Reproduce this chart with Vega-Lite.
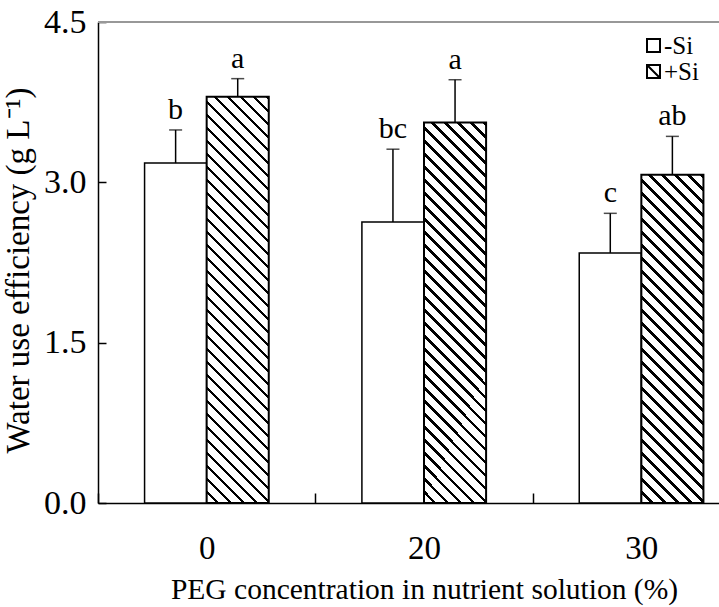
{
  "$schema": "https://vega.github.io/schema/vega-lite/v6.json",
  "width": 621,
  "height": 481,
  "autosize": "none",
  "padding": {"left": 98, "top": 22, "right": 0, "bottom": 104},
  "config": {
    "view": {"stroke": null},
    "font": "Liberation Serif",
    "style": {"guide-label": {"font": "Liberation Serif"}, "guide-title": {"font": "Liberation Serif"}},
    "axis": {"grid": false, "domainColor": "#000", "domainWidth": 1.5, "tickColor": "#000", "tickWidth": 1.5, "labelColor": "#000", "titleColor": "#000", "labelFont": "Liberation Serif", "titleFont": "Liberation Serif", "titleFontWeight": "normal"},
    "legend": {"labelFont": "Liberation Serif"}
  },
  "data": {"values": [
    {"peg": "0", "si": "-Si", "wue": 3.18, "hi": 3.49, "letter": "b"},
    {"peg": "0", "si": "+Si", "wue": 3.80, "hi": 3.97, "letter": "a"},
    {"peg": "20", "si": "-Si", "wue": 2.63, "hi": 3.31, "letter": "bc"},
    {"peg": "20", "si": "+Si", "wue": 3.56, "hi": 3.96, "letter": "a"},
    {"peg": "30", "si": "-Si", "wue": 2.34, "hi": 2.71, "letter": "c"},
    {"peg": "30", "si": "+Si", "wue": 3.07, "hi": 3.43, "letter": "ab"}
  ]},
  "encoding": {
    "x": {"field": "peg", "type": "nominal", "sort": ["0", "20", "30"],
      "scale": {"range": [0, 652], "paddingInner": 0, "paddingOuter": 0},
      "axis": {"title": "PEG concentration in nutrient solution (%)", "labelAngle": 0, "tickBand": "extent", "tickSize": -10, "labelPadding": 39, "titlePadding": 10, "labelFont": "Liberation Serif", "titleFont": "Liberation Serif", "labelFontSize": 33, "titleFontSize": 29.5}},
    "xOffset": {"field": "si", "type": "nominal", "sort": ["-Si", "+Si"], "scale": {"paddingInner": 0, "paddingOuter": 0.75}},
    "y": {"field": "wue", "type": "quantitative",
      "scale": {"domain": [0, 4.5], "nice": false, "zero": true},
      "axis": {"title": "Water use efficiency (g L\u207b\u00b9)", "values": [0, 1.5, 3, 4.5], "format": ".1f", "tickSize": -8, "labelPadding": 20, "titlePadding": 8, "titleY": 248, "labelFont": "Liberation Serif", "titleFont": "Liberation Serif", "labelFontSize": 34, "titleFontSize": 33}}
  },
  "layer": [
    {"mark": {"type": "rule", "color": "#999", "strokeWidth": 1.5}, "encoding": {"y": {"datum": 4.5}, "x": null, "xOffset": null}},
    {"transform": [{"filter": "datum.si === '-Si'"}], "mark": {"type": "bar", "fill": "#fff", "stroke": "#000", "strokeWidth": 1.5}},
    {"transform": [{"filter": "datum.si === '+Si' && datum.peg === '0'"}], "mark": {"type": "bar", "stroke": "#000", "strokeWidth": 2, "fill": {"gradient": "linear", "x1": 0, "y1": 1, "x2": 0.19124, "y2": -0.25092, "stops": [
{"offset":0,"color":"#fff"},{"offset":0.0185,"color":"#fff"},{"offset":0.0185,"color":"#000"},{"offset":0.025,"color":"#000"},
{"offset":0.025,"color":"#fff"},{"offset":0.0435,"color":"#fff"},{"offset":0.0435,"color":"#000"},{"offset":0.05,"color":"#000"},
{"offset":0.05,"color":"#fff"},{"offset":0.0685,"color":"#fff"},{"offset":0.0685,"color":"#000"},{"offset":0.075,"color":"#000"},
{"offset":0.075,"color":"#fff"},{"offset":0.0935,"color":"#fff"},{"offset":0.0935,"color":"#000"},{"offset":0.1,"color":"#000"},
{"offset":0.1,"color":"#fff"},{"offset":0.1185,"color":"#fff"},{"offset":0.1185,"color":"#000"},{"offset":0.125,"color":"#000"},
{"offset":0.125,"color":"#fff"},{"offset":0.1435,"color":"#fff"},{"offset":0.1435,"color":"#000"},{"offset":0.15,"color":"#000"},
{"offset":0.15,"color":"#fff"},{"offset":0.1685,"color":"#fff"},{"offset":0.1685,"color":"#000"},{"offset":0.175,"color":"#000"},
{"offset":0.175,"color":"#fff"},{"offset":0.1935,"color":"#fff"},{"offset":0.1935,"color":"#000"},{"offset":0.2,"color":"#000"},
{"offset":0.2,"color":"#fff"},{"offset":0.2185,"color":"#fff"},{"offset":0.2185,"color":"#000"},{"offset":0.225,"color":"#000"},
{"offset":0.225,"color":"#fff"},{"offset":0.2435,"color":"#fff"},{"offset":0.2435,"color":"#000"},{"offset":0.25,"color":"#000"},
{"offset":0.25,"color":"#fff"},{"offset":0.2685,"color":"#fff"},{"offset":0.2685,"color":"#000"},{"offset":0.275,"color":"#000"},
{"offset":0.275,"color":"#fff"},{"offset":0.2935,"color":"#fff"},{"offset":0.2935,"color":"#000"},{"offset":0.3,"color":"#000"},
{"offset":0.3,"color":"#fff"},{"offset":0.3185,"color":"#fff"},{"offset":0.3185,"color":"#000"},{"offset":0.325,"color":"#000"},
{"offset":0.325,"color":"#fff"},{"offset":0.3435,"color":"#fff"},{"offset":0.3435,"color":"#000"},{"offset":0.35,"color":"#000"},
{"offset":0.35,"color":"#fff"},{"offset":0.3685,"color":"#fff"},{"offset":0.3685,"color":"#000"},{"offset":0.375,"color":"#000"},
{"offset":0.375,"color":"#fff"},{"offset":0.3935,"color":"#fff"},{"offset":0.3935,"color":"#000"},{"offset":0.4,"color":"#000"},
{"offset":0.4,"color":"#fff"},{"offset":0.4185,"color":"#fff"},{"offset":0.4185,"color":"#000"},{"offset":0.425,"color":"#000"},
{"offset":0.425,"color":"#fff"},{"offset":0.4435,"color":"#fff"},{"offset":0.4435,"color":"#000"},{"offset":0.45,"color":"#000"},
{"offset":0.45,"color":"#fff"},{"offset":0.4685,"color":"#fff"},{"offset":0.4685,"color":"#000"},{"offset":0.475,"color":"#000"},
{"offset":0.475,"color":"#fff"},{"offset":0.4935,"color":"#fff"},{"offset":0.4935,"color":"#000"},{"offset":0.5,"color":"#000"},
{"offset":0.5,"color":"#fff"},{"offset":0.5185,"color":"#fff"},{"offset":0.5185,"color":"#000"},{"offset":0.525,"color":"#000"},
{"offset":0.525,"color":"#fff"},{"offset":0.5435,"color":"#fff"},{"offset":0.5435,"color":"#000"},{"offset":0.55,"color":"#000"},
{"offset":0.55,"color":"#fff"},{"offset":0.5685,"color":"#fff"},{"offset":0.5685,"color":"#000"},{"offset":0.575,"color":"#000"},
{"offset":0.575,"color":"#fff"},{"offset":0.5935,"color":"#fff"},{"offset":0.5935,"color":"#000"},{"offset":0.6,"color":"#000"},
{"offset":0.6,"color":"#fff"},{"offset":0.6185,"color":"#fff"},{"offset":0.6185,"color":"#000"},{"offset":0.625,"color":"#000"},
{"offset":0.625,"color":"#fff"},{"offset":0.6435,"color":"#fff"},{"offset":0.6435,"color":"#000"},{"offset":0.65,"color":"#000"},
{"offset":0.65,"color":"#fff"},{"offset":0.6685,"color":"#fff"},{"offset":0.6685,"color":"#000"},{"offset":0.675,"color":"#000"},
{"offset":0.675,"color":"#fff"},{"offset":0.6935,"color":"#fff"},{"offset":0.6935,"color":"#000"},{"offset":0.7,"color":"#000"},
{"offset":0.7,"color":"#fff"},{"offset":0.7185,"color":"#fff"},{"offset":0.7185,"color":"#000"},{"offset":0.725,"color":"#000"},
{"offset":0.725,"color":"#fff"},{"offset":0.7435,"color":"#fff"},{"offset":0.7435,"color":"#000"},{"offset":0.75,"color":"#000"},
{"offset":0.75,"color":"#fff"},{"offset":0.7685,"color":"#fff"},{"offset":0.7685,"color":"#000"},{"offset":0.775,"color":"#000"},
{"offset":0.775,"color":"#fff"},{"offset":0.7935,"color":"#fff"},{"offset":0.7935,"color":"#000"},{"offset":0.8,"color":"#000"},
{"offset":0.8,"color":"#fff"},{"offset":0.8185,"color":"#fff"},{"offset":0.8185,"color":"#000"},{"offset":0.825,"color":"#000"},
{"offset":0.825,"color":"#fff"},{"offset":0.8435,"color":"#fff"},{"offset":0.8435,"color":"#000"},{"offset":0.85,"color":"#000"},
{"offset":0.85,"color":"#fff"},{"offset":0.8685,"color":"#fff"},{"offset":0.8685,"color":"#000"},{"offset":0.875,"color":"#000"},
{"offset":0.875,"color":"#fff"},{"offset":0.8935,"color":"#fff"},{"offset":0.8935,"color":"#000"},{"offset":0.9,"color":"#000"},
{"offset":0.9,"color":"#fff"},{"offset":0.9185,"color":"#fff"},{"offset":0.9185,"color":"#000"},{"offset":0.925,"color":"#000"}
]}}},
    {"transform": [{"filter": "datum.si === '+Si' && datum.peg === '20'"}], "mark": {"type": "bar", "stroke": "#000", "strokeWidth": 2, "fill": {"gradient": "linear", "x1": 0, "y1": 1, "x2": 0.21725, "y2": -0.33114, "stops": [
{"offset":0,"color":"#fff"},{"offset":0.0185,"color":"#fff"},{"offset":0.0185,"color":"#000"},{"offset":0.025,"color":"#000"},
{"offset":0.025,"color":"#fff"},{"offset":0.0435,"color":"#fff"},{"offset":0.0435,"color":"#000"},{"offset":0.05,"color":"#000"},
{"offset":0.05,"color":"#fff"},{"offset":0.0685,"color":"#fff"},{"offset":0.0685,"color":"#000"},{"offset":0.075,"color":"#000"},
{"offset":0.075,"color":"#fff"},{"offset":0.0935,"color":"#fff"},{"offset":0.0935,"color":"#000"},{"offset":0.1,"color":"#000"},
{"offset":0.1,"color":"#fff"},{"offset":0.1185,"color":"#fff"},{"offset":0.1185,"color":"#000"},{"offset":0.125,"color":"#000"},
{"offset":0.125,"color":"#fff"},{"offset":0.1435,"color":"#fff"},{"offset":0.1435,"color":"#000"},{"offset":0.15,"color":"#000"},
{"offset":0.15,"color":"#fff"},{"offset":0.1685,"color":"#fff"},{"offset":0.1685,"color":"#000"},{"offset":0.175,"color":"#000"},
{"offset":0.175,"color":"#fff"},{"offset":0.1935,"color":"#fff"},{"offset":0.1935,"color":"#000"},{"offset":0.2,"color":"#000"},
{"offset":0.2,"color":"#fff"},{"offset":0.2185,"color":"#fff"},{"offset":0.2185,"color":"#000"},{"offset":0.225,"color":"#000"},
{"offset":0.225,"color":"#fff"},{"offset":0.2435,"color":"#fff"},{"offset":0.2435,"color":"#000"},{"offset":0.25,"color":"#000"},
{"offset":0.25,"color":"#fff"},{"offset":0.2685,"color":"#fff"},{"offset":0.2685,"color":"#000"},{"offset":0.275,"color":"#000"},
{"offset":0.275,"color":"#fff"},{"offset":0.2935,"color":"#fff"},{"offset":0.2935,"color":"#000"},{"offset":0.3,"color":"#000"},
{"offset":0.3,"color":"#fff"},{"offset":0.3185,"color":"#fff"},{"offset":0.3185,"color":"#000"},{"offset":0.325,"color":"#000"},
{"offset":0.325,"color":"#fff"},{"offset":0.3435,"color":"#fff"},{"offset":0.3435,"color":"#000"},{"offset":0.35,"color":"#000"},
{"offset":0.35,"color":"#fff"},{"offset":0.3685,"color":"#fff"},{"offset":0.3685,"color":"#000"},{"offset":0.375,"color":"#000"},
{"offset":0.375,"color":"#fff"},{"offset":0.3935,"color":"#fff"},{"offset":0.3935,"color":"#000"},{"offset":0.4,"color":"#000"},
{"offset":0.4,"color":"#fff"},{"offset":0.4185,"color":"#fff"},{"offset":0.4185,"color":"#000"},{"offset":0.425,"color":"#000"},
{"offset":0.425,"color":"#fff"},{"offset":0.4435,"color":"#fff"},{"offset":0.4435,"color":"#000"},{"offset":0.45,"color":"#000"},
{"offset":0.45,"color":"#fff"},{"offset":0.4685,"color":"#fff"},{"offset":0.4685,"color":"#000"},{"offset":0.475,"color":"#000"},
{"offset":0.475,"color":"#fff"},{"offset":0.4935,"color":"#fff"},{"offset":0.4935,"color":"#000"},{"offset":0.5,"color":"#000"},
{"offset":0.5,"color":"#fff"},{"offset":0.5185,"color":"#fff"},{"offset":0.5185,"color":"#000"},{"offset":0.525,"color":"#000"},
{"offset":0.525,"color":"#fff"},{"offset":0.5435,"color":"#fff"},{"offset":0.5435,"color":"#000"},{"offset":0.55,"color":"#000"},
{"offset":0.55,"color":"#fff"},{"offset":0.5685,"color":"#fff"},{"offset":0.5685,"color":"#000"},{"offset":0.575,"color":"#000"},
{"offset":0.575,"color":"#fff"},{"offset":0.5935,"color":"#fff"},{"offset":0.5935,"color":"#000"},{"offset":0.6,"color":"#000"},
{"offset":0.6,"color":"#fff"},{"offset":0.6185,"color":"#fff"},{"offset":0.6185,"color":"#000"},{"offset":0.625,"color":"#000"},
{"offset":0.625,"color":"#fff"},{"offset":0.6435,"color":"#fff"},{"offset":0.6435,"color":"#000"},{"offset":0.65,"color":"#000"},
{"offset":0.65,"color":"#fff"},{"offset":0.6685,"color":"#fff"},{"offset":0.6685,"color":"#000"},{"offset":0.675,"color":"#000"},
{"offset":0.675,"color":"#fff"},{"offset":0.6935,"color":"#fff"},{"offset":0.6935,"color":"#000"},{"offset":0.7,"color":"#000"},
{"offset":0.7,"color":"#fff"},{"offset":0.7185,"color":"#fff"},{"offset":0.7185,"color":"#000"},{"offset":0.725,"color":"#000"},
{"offset":0.725,"color":"#fff"},{"offset":0.7435,"color":"#fff"},{"offset":0.7435,"color":"#000"},{"offset":0.75,"color":"#000"},
{"offset":0.75,"color":"#fff"},{"offset":0.7685,"color":"#fff"},{"offset":0.7685,"color":"#000"},{"offset":0.775,"color":"#000"},
{"offset":0.775,"color":"#fff"},{"offset":0.7935,"color":"#fff"},{"offset":0.7935,"color":"#000"},{"offset":0.8,"color":"#000"},
{"offset":0.8,"color":"#fff"},{"offset":0.8185,"color":"#fff"},{"offset":0.8185,"color":"#000"},{"offset":0.825,"color":"#000"},
{"offset":0.825,"color":"#fff"},{"offset":0.8435,"color":"#fff"},{"offset":0.8435,"color":"#000"},{"offset":0.85,"color":"#000"},
{"offset":0.85,"color":"#fff"},{"offset":0.8685,"color":"#fff"},{"offset":0.8685,"color":"#000"},{"offset":0.875,"color":"#000"},
{"offset":0.875,"color":"#fff"},{"offset":0.8935,"color":"#fff"},{"offset":0.8935,"color":"#000"},{"offset":0.9,"color":"#000"}
]}}},
    {"transform": [{"filter": "datum.si === '+Si' && datum.peg === '30'"}], "mark": {"type": "bar", "stroke": "#000", "strokeWidth": 2, "fill": {"gradient": "linear", "x1": 0, "y1": 1, "x2": 0.28943, "y2": -0.52964, "stops": [
{"offset":0,"color":"#fff"},{"offset":0.0185,"color":"#fff"},{"offset":0.0185,"color":"#000"},{"offset":0.025,"color":"#000"},
{"offset":0.025,"color":"#fff"},{"offset":0.0435,"color":"#fff"},{"offset":0.0435,"color":"#000"},{"offset":0.05,"color":"#000"},
{"offset":0.05,"color":"#fff"},{"offset":0.0685,"color":"#fff"},{"offset":0.0685,"color":"#000"},{"offset":0.075,"color":"#000"},
{"offset":0.075,"color":"#fff"},{"offset":0.0935,"color":"#fff"},{"offset":0.0935,"color":"#000"},{"offset":0.1,"color":"#000"},
{"offset":0.1,"color":"#fff"},{"offset":0.1185,"color":"#fff"},{"offset":0.1185,"color":"#000"},{"offset":0.125,"color":"#000"},
{"offset":0.125,"color":"#fff"},{"offset":0.1435,"color":"#fff"},{"offset":0.1435,"color":"#000"},{"offset":0.15,"color":"#000"},
{"offset":0.15,"color":"#fff"},{"offset":0.1685,"color":"#fff"},{"offset":0.1685,"color":"#000"},{"offset":0.175,"color":"#000"},
{"offset":0.175,"color":"#fff"},{"offset":0.1935,"color":"#fff"},{"offset":0.1935,"color":"#000"},{"offset":0.2,"color":"#000"},
{"offset":0.2,"color":"#fff"},{"offset":0.2185,"color":"#fff"},{"offset":0.2185,"color":"#000"},{"offset":0.225,"color":"#000"},
{"offset":0.225,"color":"#fff"},{"offset":0.2435,"color":"#fff"},{"offset":0.2435,"color":"#000"},{"offset":0.25,"color":"#000"},
{"offset":0.25,"color":"#fff"},{"offset":0.2685,"color":"#fff"},{"offset":0.2685,"color":"#000"},{"offset":0.275,"color":"#000"},
{"offset":0.275,"color":"#fff"},{"offset":0.2935,"color":"#fff"},{"offset":0.2935,"color":"#000"},{"offset":0.3,"color":"#000"},
{"offset":0.3,"color":"#fff"},{"offset":0.3185,"color":"#fff"},{"offset":0.3185,"color":"#000"},{"offset":0.325,"color":"#000"},
{"offset":0.325,"color":"#fff"},{"offset":0.3435,"color":"#fff"},{"offset":0.3435,"color":"#000"},{"offset":0.35,"color":"#000"},
{"offset":0.35,"color":"#fff"},{"offset":0.3685,"color":"#fff"},{"offset":0.3685,"color":"#000"},{"offset":0.375,"color":"#000"},
{"offset":0.375,"color":"#fff"},{"offset":0.3935,"color":"#fff"},{"offset":0.3935,"color":"#000"},{"offset":0.4,"color":"#000"},
{"offset":0.4,"color":"#fff"},{"offset":0.4185,"color":"#fff"},{"offset":0.4185,"color":"#000"},{"offset":0.425,"color":"#000"},
{"offset":0.425,"color":"#fff"},{"offset":0.4435,"color":"#fff"},{"offset":0.4435,"color":"#000"},{"offset":0.45,"color":"#000"},
{"offset":0.45,"color":"#fff"},{"offset":0.4685,"color":"#fff"},{"offset":0.4685,"color":"#000"},{"offset":0.475,"color":"#000"},
{"offset":0.475,"color":"#fff"},{"offset":0.4935,"color":"#fff"},{"offset":0.4935,"color":"#000"},{"offset":0.5,"color":"#000"},
{"offset":0.5,"color":"#fff"},{"offset":0.5185,"color":"#fff"},{"offset":0.5185,"color":"#000"},{"offset":0.525,"color":"#000"},
{"offset":0.525,"color":"#fff"},{"offset":0.5435,"color":"#fff"},{"offset":0.5435,"color":"#000"},{"offset":0.55,"color":"#000"},
{"offset":0.55,"color":"#fff"},{"offset":0.5685,"color":"#fff"},{"offset":0.5685,"color":"#000"},{"offset":0.575,"color":"#000"},
{"offset":0.575,"color":"#fff"},{"offset":0.5935,"color":"#fff"},{"offset":0.5935,"color":"#000"},{"offset":0.6,"color":"#000"},
{"offset":0.6,"color":"#fff"},{"offset":0.6185,"color":"#fff"},{"offset":0.6185,"color":"#000"},{"offset":0.625,"color":"#000"},
{"offset":0.625,"color":"#fff"},{"offset":0.6435,"color":"#fff"},{"offset":0.6435,"color":"#000"},{"offset":0.65,"color":"#000"},
{"offset":0.65,"color":"#fff"},{"offset":0.6685,"color":"#fff"},{"offset":0.6685,"color":"#000"},{"offset":0.675,"color":"#000"},
{"offset":0.675,"color":"#fff"},{"offset":0.6935,"color":"#fff"},{"offset":0.6935,"color":"#000"},{"offset":0.7,"color":"#000"},
{"offset":0.7,"color":"#fff"},{"offset":0.7185,"color":"#fff"},{"offset":0.7185,"color":"#000"},{"offset":0.725,"color":"#000"},
{"offset":0.725,"color":"#fff"},{"offset":0.7435,"color":"#fff"},{"offset":0.7435,"color":"#000"},{"offset":0.75,"color":"#000"},
{"offset":0.75,"color":"#fff"},{"offset":0.7685,"color":"#fff"},{"offset":0.7685,"color":"#000"},{"offset":0.775,"color":"#000"}
]}}},
    {"mark": {"type": "rule", "color": "#000", "strokeWidth": 1.5}, "encoding": {"y2": {"field": "hi"}}},
    {"mark": {"type": "tick", "color": "#000", "thickness": 1.5, "size": 13, "orient": "horizontal"}, "encoding": {"y": {"field": "hi", "type": "quantitative"}}},
    {"mark": {"type": "text", "baseline": "alphabetic", "dy": -11, "fontSize": 30, "font": "Liberation Serif", "color": "#000"}, "encoding": {"y": {"field": "hi", "type": "quantitative"}, "text": {"field": "letter"}}},
    {"mark": {"type": "point", "opacity": 0}, "encoding": {
      "shape": {"field": "si", "type": "nominal", "sort": ["-Si", "+Si"], "scale": {"domain": ["-Si", "+Si"], "range": ["M-1,-1H1V1H-1Z", "M-1,-1H1V1H-1ZM-1,-1L1,1"]},
        "legend": {"title": null, "orient": "none", "legendX": 543, "legendY": 11, "symbolSize": 169, "symbolFillColor": "#fff", "symbolStrokeColor": "#000", "symbolStrokeWidth": 2, "symbolOpacity": 1, "labelFont": "Liberation Serif", "labelFontSize": 25, "labelColor": "#000", "rowPadding": 0, "labelOffset": -2}}
    }}
  ]
}
